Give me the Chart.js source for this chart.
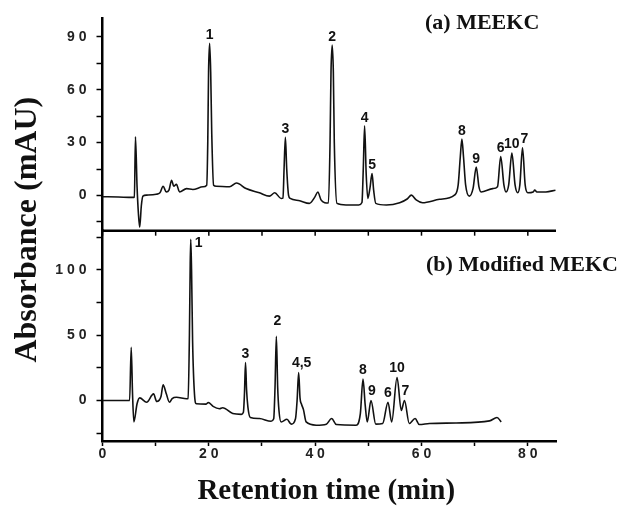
<!DOCTYPE html>
<html>
<head>
<meta charset="utf-8">
<script src="https://cdn.jsdelivr.net/npm/chart.js@4.4.1/dist/chart.umd.min.js"></script>
<style>
  html, body { margin: 0; padding: 0; background: #fff; }
  canvas { display: block; }
</style>
</head>
<body>
<canvas id="cromatograma" width="622" height="507"></canvas>
<script>
// (a) MEEKC - tiempo (min) y absorbancia (mAU)
const tiempoA = [0, 3, 5.7, 6.0, 6.2, 6.5, 6.75, 7.0, 7.3, 7.6, 8.3, 10.1, 10.8, 11.4, 12.0, 12.5, 13.0, 13.4, 13.9, 14.5,
  15.8, 17.0, 18.9, 19.6, 19.8, 19.95, 20.15, 20.35, 20.55, 20.9, 21.4, 23.9, 25.2, 27.0, 29.5, 31.4, 32.4, 33.6,
  33.95, 34.15, 34.4, 34.65, 35.0, 35.3, 37.1, 38.9, 39.9, 40.5, 41.1, 41.8, 42.5, 42.8, 42.98, 43.2, 43.42, 43.6, 44.1,
  45.8, 48.2, 48.8, 49.05, 49.3, 49.6, 49.9, 50.3, 50.7, 51.0, 51.4, 53.4, 55.9, 57.3, 58.1, 59.0, 60.2, 63.4, 66.2,
  66.9, 67.3, 67.6, 67.9, 68.3, 69.0, 69.7, 70.3, 70.8, 71.2, 73.4, 74.3, 74.9, 75.5, 75.9, 76.4, 77.0, 77.6, 78.1,
  78.5, 79.0, 79.5, 80.0, 81.0, 81.3, 81.7, 83.4, 85.2];
const absA = [-0.7, -0.9, -1.1, -1.0, 33.3, 5, -10, -18, -6, -0.4, 0.2, 0.7, 1.5, 5.2, 2, 3, 8.6, 5.2, 6.3, 2,
  3.9, 3.4, 4.9, 5.8, 30, 70, 86.3, 70, 35, 5.8, 5.2, 4.9, 7.1, 3.9, 1.5, -0.4, 1.5, -1.7,
  -1.5, 15, 33, 15, 0, -1.7, -3, -4.5, -1.1, 2, -2.5, -4.1, -4.3, 30, 70, 85.4, 70, 30, -4.5,
  -5.4, -5.4, -4, 15, 39.5, 12, -1.7, 4, 12.4, 3, -4.5, -5.4, -4.1, -2, 0.2, -2.5, -4.1, -2.2, 0.2,
  6, 22, 32, 22, 6, -0.4, 4, 16.1, 5, 2, 3.9, 5, 22.1, 6, 2, 6, 24, 6, 1.5,
  6, 27, 6, 1.5, 2, 3, 2, 2, 3];

// (b) Modified MEKC
const tiempoB = [0, 5.1, 5.4, 5.65, 5.9, 6.5, 7.0, 8.3, 9.6, 10.2, 11.0, 11.4, 12.0, 12.6, 13.1, 13.9, 15.8, 16.1,
  16.35, 16.5, 16.6, 16.75, 16.95, 17.3, 17.65, 19.5, 19.9, 20.8, 22.0, 22.6, 24.5, 26.1, 26.5, 26.7, 26.9, 27.1, 27.35,
  27.8, 29.5, 31.7, 32.2, 32.45, 32.7, 32.95, 33.2, 33.6, 34.7, 35.5, 36.3, 36.6, 36.9, 37.15, 37.45, 37.8, 38.3, 40.2,
  42.1, 43.1, 44.0, 47.7, 48.5, 49.0, 49.4, 49.8, 50.5, 51.4, 52.7, 53.7, 54.4, 55.4, 56.2, 56.8, 57.7, 58.8, 59.6,
  61.5, 66.5, 72.8, 74.2, 75.0];
const absB = [0, 0, 40.8, 5, -16.4, -2.5, 2, -1.3, 5.1, -0.8, 3, 12.1, 5.1, -1.3, 1.5, 2.5, 1.3, 1.5,
  50, 105, 123.4, 100, 45, 5, -2.5, -2.8, -1.5, -4.5, -6.3, -5.5, -10, -10.6, -9, 5, 29, 8, -5,
  -13, -13.8, -15.9, -14, 10, 49.1, 10, -8, -16.4, -14.4, -18.1, -14, 0, 21.4, 2, -3, -7, -16.4, -18.9,
  -18.1, -13.8, -18.4, -18.9, -10, 16.4, -3, -16.4, 0, -18.1, -17.6, -1.3, -16.4, 17.6, -7.6, 0, -17.6, -13.8, -18.4,
  -17.6, -17.2, -15.6, -13, -16.4];

// Nombres de los picos y su tiempo de retencion
const picosA = ['1', '3', '2', '4', '5', '8', '9', '6', '10', '7'];
const tiempoPicosA = [20.15, 34.4, 43.2, 49.3, 50.7, 67.6, 70.3, 74.9, 77.0, 79.0];
const picosB = ['1', '3', '2', '4,5', '8', '9', '6', '10', '7'];
const tiempoPicosB = [16.6, 26.9, 32.7, 36.9, 49.0, 50.5, 53.7, 55.4, 56.8];

// Marcas de los ejes
const ticksX = [0, 10, 20, 30, 40, 50, 60, 70, 80];
const ticksYA = [-15, 0, 15, 30, 45, 60, 75, 90];
const ticksYB = [-25, 0, 25, 50, 75, 100, 125];

const titulos = ['(a) MEEKC', '(b) Modified MEKC'];

const fuenteNum = { family: '"Liberation Sans", Arial, sans-serif', size: 14, weight: 'bold' };
const espaciar = (v) => String(v).split('').join(' '); // "90" -> "9 0" como en la figura

const puntos = (ts, ys) => ts.map((t, i) => ({ x: t, y: ys[i] }));

// Etiquetas, titulos y la linea que separa los dos paneles
const anotaciones = {
    id: 'anotaciones',
    afterDraw(chart) {
        const { ctx, chartArea, scales } = chart;
        const x = scales.x, ya = scales.yA, yb = scales.yB;
        ctx.save();

        // linea entre paneles con sus marcas hacia abajo
        ctx.strokeStyle = '#000';
        ctx.lineWidth = 2.5;
        ctx.beginPath();
        ctx.moveTo(chartArea.left - 1, ya.bottom);
        ctx.lineTo(chartArea.right, ya.bottom);
        ctx.stroke();
        ctx.lineWidth = 1.5;
        ticksX.forEach(t => {
            const px = x.getPixelForValue(t);
            ctx.beginPath();
            ctx.moveTo(px, ya.bottom);
            ctx.lineTo(px, ya.bottom + 5);
            ctx.stroke();
        });

        // numeros de los picos
        ctx.fillStyle = '#111';
        ctx.font = 'bold 14px "Liberation Sans", Arial, sans-serif';
        ctx.textAlign = 'center';
        ctx.textBaseline = 'middle';
        const etiquetar = (nombres, tiempos, ts, ys, escala, ajustes) => {
            nombres.forEach((n, i) => {
                const v = ys[ts.indexOf(tiempos[i])];
                const aj = ajustes[n] || [0, -8];
                ctx.fillText(n, x.getPixelForValue(tiempos[i]) + aj[0], escala.getPixelForValue(v) + aj[1]);
            });
        };
        etiquetar(picosA, tiempoPicosA, tiempoA, absA, ya, { '10': [0, -9], '7': [2, -9] });
        etiquetar(picosB, tiempoPicosB, tiempoB, absB, yb, { '1': [8, 4], '2': [1, -15], '8': [0, -9], '9': [1, -9], '6': [0, -9], '10': [0, -9], '7': [1, -9], '4,5': [3, -9] });

        // titulos de cada panel
        ctx.font = 'bold 22px "Liberation Serif", "Times New Roman", serif';
        ctx.textAlign = 'left';
        ctx.fillText(titulos[0], 425, 23);
        ctx.fillText(titulos[1], 426, 265);

        // titulos de los ejes
        ctx.textAlign = 'center';
        ctx.font = 'bold 29px "Liberation Serif", "Times New Roman", serif';
        ctx.fillText('Retention time (min)', (chartArea.left + chartArea.right) / 2 - 3, 492);
        ctx.translate(28, (chartArea.top + chartArea.bottom) / 2);
        ctx.rotate(-Math.PI / 2);
        ctx.font = 'bold 32px "Liberation Serif", "Times New Roman", serif';
        ctx.fillText('Absorbance (mAU)', 0, 0);
        ctx.restore();
    }
};

const ejeY = (min, max, peso, marcas, paso) => ({
    type: 'linear',
    position: 'left',
    stack: 'paneles',
    stackWeight: peso,
    min: min,
    max: max,
    afterBuildTicks: (s) => { s.ticks = marcas.map(v => ({ value: v })); },
    afterFit: (s) => { s.width = 102.5; },
    border: { color: '#000', width: 2.5 },
    grid: { drawOnChartArea: false, tickLength: 6, tickColor: '#000', tickWidth: 1.5 },
    ticks: {
        color: '#222',
        font: fuenteNum,
        padding: 10,
        autoSkip: false,
        callback: (v) => v % paso === 0 ? espaciar(v) : ''
    }
});

new Chart(document.getElementById('cromatograma'), {
    type: 'line',
    data: {
        datasets: [
            { label: 'MEEKC', data: puntos(tiempoA, absA), yAxisID: 'yA' },
            { label: 'Modified MEKC', data: puntos(tiempoB, absB), yAxisID: 'yB' }
        ]
    },
    options: {
        responsive: false,
        animation: false,
        layout: { padding: { left: 0, top: 13, right: 66, bottom: 0 } },
        elements: {
            line: { borderColor: '#111', borderWidth: 1.6, cubicInterpolationMode: 'monotone' },
            point: { radius: 0 }
        },
        plugins: {
            legend: { display: false },
            tooltip: { enabled: false }
        },
        scales: {
            x: {
                type: 'linear',
                position: 'bottom',
                min: 0,
                max: 85.3,
                afterBuildTicks: (s) => { s.ticks = ticksX.map(v => ({ value: v })); },
                afterFit: (s) => { s.height = 66; },
                border: { color: '#000', width: 2.5 },
                grid: { drawOnChartArea: false, tickLength: 5, tickColor: '#000', tickWidth: 1.5 },
                ticks: {
                    color: '#222',
                    font: fuenteNum,
                    padding: 0,
                    autoSkip: false,
                    maxRotation: 0,
                    callback: (v) => v % 20 === 0 ? espaciar(v) : ''
                }
            },
            // el orden importa: el ultimo eje de la pila queda arriba
            yB: ejeY(-31, 130, 213, ticksYB, 50),
            yA: ejeY(-20, 100.5, 215, ticksYA, 30)
        }
    },
    plugins: [anotaciones]
});
</script>
</body>
</html>
